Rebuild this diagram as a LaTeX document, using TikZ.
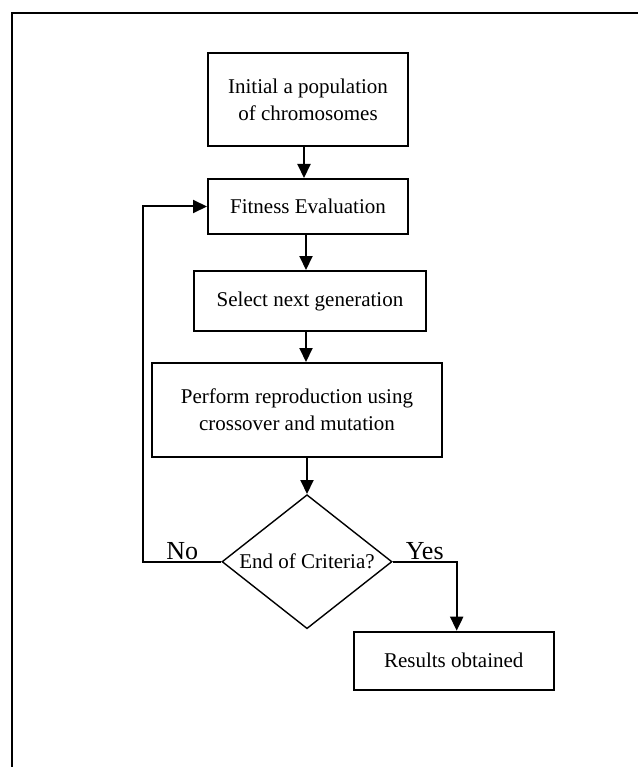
\documentclass[tikz,border=0pt]{standalone}
\usepackage{fontspec}
\setmainfont{Liberation Serif}
\usetikzlibrary{shapes.geometric, positioning, arrows.meta}

\begin{document}
\begin{tikzpicture}[
    x=1pt, y=1pt,
    >={Triangle[length=14pt, width=13pt]},
    every node/.style={font=\fontsize{21}{27}\selectfont},
    procbox/.style={
        draw,
        line width=2pt,
        rectangle,
        align=center,
        inner sep=0pt
    },
    decbox/.style={
        draw,
        line width=1.4pt,
        diamond,
        aspect=1.27,
        inner sep=0pt,
        minimum width=170pt,
        minimum height=134pt
    },
    flow/.style={->, line width=2pt},
    answer/.style={font=\fontsize{26}{30}\selectfont, inner sep=1pt}
]
\useasboundingbox (0,0) rectangle (637,-767);
% frame
\draw[line width=2pt] (640,-13) -- (12,-13) -- (12,-770);

% boxes
\node[procbox, minimum width=200pt, minimum height=93pt] (init) at (308,-99.5)
    {Initial a population\\of chromosomes};
\node[procbox, minimum width=200pt, minimum height=55pt, below=31pt of init] (fit)
    {Fitness Evaluation};
\node[procbox, minimum width=232pt, minimum height=60pt, below=35pt of fit, xshift=2pt] (select)
    {Select next generation};
\node[procbox, minimum width=290pt, minimum height=94pt, below=30pt of select, xshift=-13pt] (perform)
    {Perform reproduction using\\crossover and mutation};
\node[decbox, below=36pt of perform, xshift=10pt] (check) {End of Criteria?};
\coordinate[left=78pt of check.west] (noturn);
\coordinate[right=64pt of check.east] (yesturn);
\node[procbox, minimum width=200pt, minimum height=58pt, below=69pt of yesturn, xshift=-3pt] (result)
    {Results obtained};

% arrows
\draw[flow] (init.south -| 304,0) -- (fit.north -| 304,0);
\draw[flow] (fit.south -| 306,0) -- (select.north -| 306,0);
\draw[flow] (select.south -| 306,0) -- (perform.north -| 306,0);
\draw[flow] (perform.south -| 307,0) -- (check.north);
\draw[flow] (check.west) -- node[answer, above] {No} (noturn) |- (fit.west);
\draw[flow] (check.east) -- node[answer, above] {Yes} (yesturn) -- (yesturn |- result.north);
\end{tikzpicture}
\end{document}
